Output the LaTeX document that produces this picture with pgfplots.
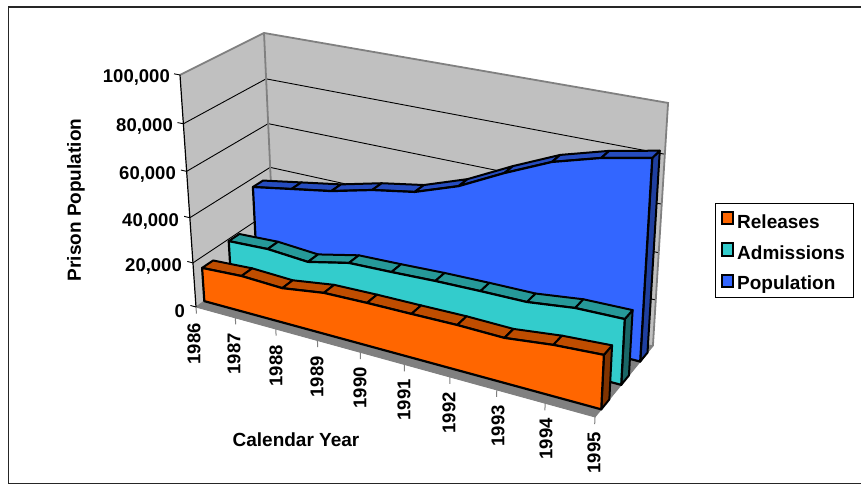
\documentclass[border=0pt]{standalone}
\usepackage{fontspec}
\setmainfont{Liberation Sans}
\usepackage{pgfplots}
\usepackage{pgfplotstable}
\pgfplotsset{compat=1.18}

\definecolor{wall}{HTML}{C0C0C0}
\definecolor{edge}{HTML}{808080}
\definecolor{relF}{HTML}{FF6600}
\definecolor{relT}{HTML}{BF4D00}
\definecolor{relS}{HTML}{803300}
\definecolor{admF}{HTML}{33CCCC}
\definecolor{admT}{HTML}{269999}
\definecolor{admS}{HTML}{1A6666}
\definecolor{popF}{HTML}{3366FF}
\definecolor{popT}{HTML}{264CBF}
\definecolor{popS}{HTML}{1F3F9F}

% Annual counts for each series, in thousands
\pgfplotstableread{
year rel  adm  pop
1986 15.2 19.1 36.1
1987 16.2 19.9 39.2
1988 15.5 18.6 42.3
1989 18.2 22.7 46.8
1990 18.7 23.3 50.0
1991 18.9 24.1 56.5
1992 19.2 24.5 65.9
1993 18.9 24.7 74.3
1994 21.2 27.1 79.7
1995 22.4 27.5 83.5
}\flows

% Perspective camera: T along the years (0..1), D into the depth (0..1),
% V up the value axis (0..1); the result lands in \px, \py.
\newcommand\project[3]{%
  \pgfmathsetmacro\pw{1-0.1251*(#1)+0.0724*(#2)-0.0622*(#3)}%
  \pgfmathsetmacro\px{(196+324.6*(#1)+97.9*(#2)-27.2*(#3))/\pw}%
  \pgfmathsetmacro\py{(307+57.8*(#1)-37*(#2)-236.7*(#3))/\pw}%
}
\def\addpt#1/#2/#3\relax{\project{#1}{#2}{#3}\edef\acc{\acc(\px,\py)}}
% Closed polygon and open polyline through T/D/V triples
\newcommand\poly[2]{%
  \def\acc{}%
  \pgfplotsforeachungrouped \p in {#2}{\expandafter\addpt\p\relax}%
  \edef\cmd{\noexpand\addplot[\unexpanded{#1}] coordinates {\acc} -- cycle;}\cmd
}
\newcommand\pline[2]{%
  \def\acc{}%
  \pgfplotsforeachungrouped \p in {#2}{\expandafter\addpt\p\relax}%
  \edef\cmd{\noexpand\addplot[\unexpanded{#1}] coordinates {\acc};}\cmd
}
% One area series: value column, front and back depth, three fills
\newcommand\areaseries[6]{%
  % right-hand end
  \pgfplotstablegetelem{9}{#1}\of\flows
  \pgfmathsetmacro\vl{\pgfplotsretval/100}%
  \edef\tmp{\noexpand\poly{fill=#6,draw=black,line width=2pt,line join=round}{1/#2/0,1/#3/0,1/#3/\vl,1/#2/\vl}}\tmp
  % roof, one panel per year
  \pgfplotsforeachungrouped \i in {0,...,8}{%
    \pgfmathtruncatemacro\j{\i+1}%
    \pgfplotstablegetelem{\i}{#1}\of\flows
    \pgfmathsetmacro\va{\pgfplotsretval/100}%
    \pgfplotstablegetelem{\j}{#1}\of\flows
    \pgfmathsetmacro\vb{\pgfplotsretval/100}%
    \pgfmathsetmacro\ta{\i/9}\pgfmathsetmacro\tb{\j/9}%
    \edef\tmp{\noexpand\poly{fill=#5,draw=black,line width=2pt,line join=round}{\ta/#2/\va,\tb/#2/\vb,\tb/#3/\vb,\ta/#3/\va}}\tmp
  }%
  % front face
  \def\facelist{0/#2/0}%
  \pgfplotsforeachungrouped \i in {0,...,9}{%
    \pgfplotstablegetelem{\i}{#1}\of\flows
    \pgfmathsetmacro\va{\pgfplotsretval/100}%
    \pgfmathsetmacro\ta{\i/9}%
    \edef\facelist{\facelist,\ta/#2/\va}%
  }%
  \edef\facelist{\facelist,1/#2/0}%
  \edef\tmp{\noexpand\poly{fill=#4,draw=black,line width=2.2pt,line join=round}{\facelist}}\tmp
}

\begin{document}
\begin{tikzpicture}[x=1pt,y=1pt]
\path[use as bounding box] (0,0) rectangle (861,485);
\begin{axis}[at={(0,0)},anchor=south west,scale only axis,width=861pt,height=485pt,
  xmin=0,xmax=861,ymin=0,ymax=485,y dir=reverse,hide axis,clip=false]

% outer frame, running off the right-hand side
\addplot[draw=black!85,line width=1.5pt] coordinates {(861,7)(8.5,7)(8.5,483.5)(861,483.5)};

% walls and floor
\poly{fill=wall,draw=none}{0/0/0,0/1/0,0/1/1,0/0/1}
\poly{fill=wall,draw=none}{0/1/0,1/1/0,1/1/1,0/1/1}
\poly{fill=edge,draw=edge,line width=1pt}{0/0/0,1/0/0,1/1/0,0/1/0}
% gridlines
\pgfplotsforeachungrouped \g in {0.2,0.4,0.6,0.8}{%
  \edef\tmp{\noexpand\pline{draw=black,line width=0.9pt}{0/0/\g,0/1/\g,1/1/\g}}\tmp
}
% wall edges
\pline{draw=edge,line width=1.8pt}{0/0/1,0/1/1,1/1/1,1/1/0}
\pline{draw=edge,line width=1.8pt}{0/1/1,0/1/0}
\pline{draw=black,line width=1.2pt}{0/0/0,0/0/1}
% value axis ticks
\pgfplotsforeachungrouped \g in {0,0.2,0.4,0.6,0.8,1}{%
  \edef\tmp{\noexpand\pline{draw=black,line width=0.9pt}{0/0/\g,-0.016/0/\g}}\tmp
}
% year axis ticks
\pgfplotsforeachungrouped \i in {0,...,9}{%
  \pgfmathsetmacro\ta{\i/9}%
  \edef\tmp{\noexpand\pline{draw=edge,line width=1pt}{\ta/0/0,\ta/0/-0.03}}\tmp
}

% the three series, farthest first
\areaseries{pop}{0.767}{0.9}{popF}{popT}{popS}
\areaseries{adm}{0.433}{0.567}{admF}{admT}{admS}
\areaseries{rel}{0.1}{0.233}{relF}{relT}{relS}

% legend box and swatches
\addplot[draw=black,line width=0.9pt] coordinates {(715,203)(853,203)(853,297)(715,297)} -- cycle;
\addplot[fill=relF,draw=black,line width=1.8pt] coordinates {(722,212)(733,212)(733,224)(722,224)} -- cycle;
\addplot[fill=admF,draw=black,line width=1.8pt] coordinates {(722,243)(733,243)(733,256)(722,256)} -- cycle;
\addplot[fill=popF,draw=black,line width=1.8pt] coordinates {(722,275)(733,275)(733,287)(722,287)} -- cycle;

% text
\tikzset{lab/.style={font=\fontsize{19}{22}\selectfont\bfseries,inner sep=0pt},
         num/.style={font=\fontsize{18.5}{22}\selectfont\bfseries,inner sep=0pt}}
\node[lab,anchor=west] at (axis cs:737,222) {Releases};
\node[lab,anchor=west] at (axis cs:737,253) {Admissions};
\node[lab,anchor=west] at (axis cs:737,285) {Population};
\node[num,anchor=east] at (axis cs:170,77) {100,000};
\node[num,anchor=east] at (axis cs:173,126) {80,000};
\node[num,anchor=east] at (axis cs:176,174) {60,000};
\node[num,anchor=east] at (axis cs:179,221) {40,000};
\node[num,anchor=east] at (axis cs:182,266) {20,000};
\node[num,anchor=east] at (axis cs:185,311) {0};
\node[lab,rotate=90] at (axis cs:76,200) {Prison Population};
\node[lab] at (axis cs:296,440) {Calendar Year};
\node[num,rotate=90,anchor=east] at (axis cs:194,323) {1986};
\node[num,rotate=90,anchor=east] at (axis cs:234,333) {1987};
\node[num,rotate=90,anchor=east] at (axis cs:276,345) {1988};
\node[num,rotate=90,anchor=east] at (axis cs:317,356) {1989};
\node[num,rotate=90,anchor=east] at (axis cs:360,367) {1990};
\node[num,rotate=90,anchor=east] at (axis cs:404,379) {1991};
\node[num,rotate=90,anchor=east] at (axis cs:449,392) {1992};
\node[num,rotate=90,anchor=east] at (axis cs:498,405) {1993};
\node[num,rotate=90,anchor=east] at (axis cs:546,418) {1994};
\node[num,rotate=90,anchor=east] at (axis cs:594,432) {1995};
\end{axis}
\end{tikzpicture}
\end{document}
